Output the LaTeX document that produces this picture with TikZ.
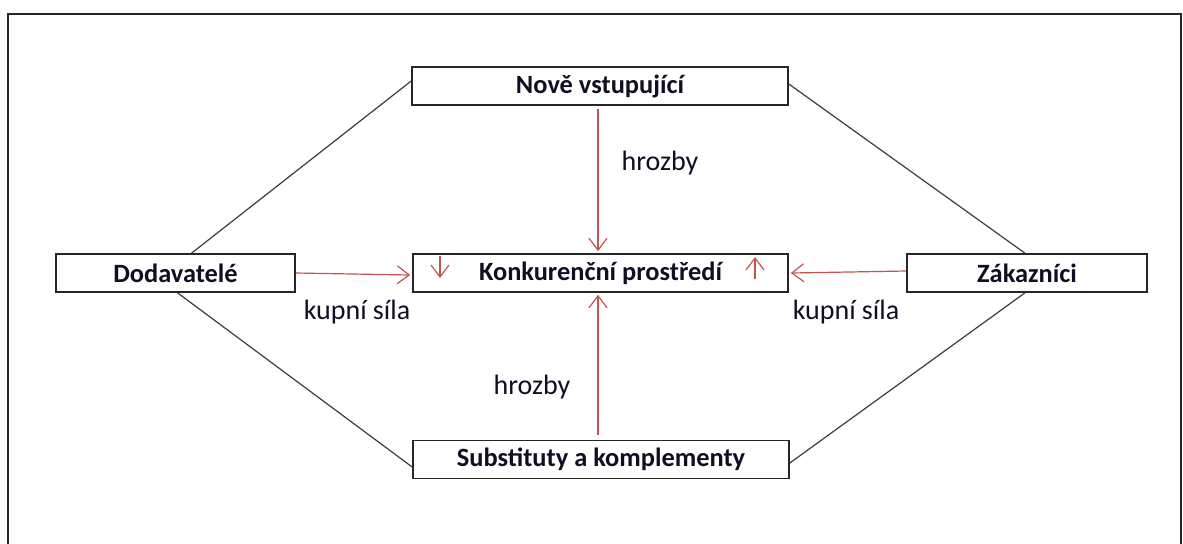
\documentclass[tikz,border=0pt]{standalone}
\usepackage{fontspec}
\setmainfont{Carlito}
\usetikzlibrary{arrows.meta,positioning}
\definecolor{forcered}{RGB}{196,84,80}
\definecolor{linegray}{RGB}{60,60,60}
\definecolor{textnavy}{RGB}{15,15,35}
\newcommand{\forcefont}{\fontsize{13.2}{15}\selectfont}
\newcommand{\labelfont}{\fontsize{14}{16}\selectfont}

\begin{document}
\begin{tikzpicture}[x=0.5pt, y=-0.5pt,
  forcebox/.style = {draw = black!85, line width = 0.8pt, fill = white, shape = rectangle, minimum height = 19pt, inner sep = 0pt, font = \forcefont\bfseries, text = textnavy},
  tie/.style = {draw = linegray, line width = 0.6pt},
  threat/.style = {draw = forcered, line width = 0.6pt, -{Straight Barb[length=6pt, width=9pt, line width=0.6pt]}},
  lbl/.style = {font = \labelfont, text = textnavy, inner sep = 0pt}]
\useasboundingbox (0,0) rectangle (1183,543);
\draw[line width = 1pt, black!85] (8,545) -- (8,14) -- (1181,14) -- (1181,545);

\node[forcebox, minimum width = 188pt] (nove) at (600,86) {Nově vstupující};
\node[forcebox, minimum width = 187.5pt] (konk) at (600.5,273) {Konkurenční prostředí};
\node[forcebox, minimum width = 119.5pt] (dod) at (175.5,273) {Dodavatelé};
\node[forcebox, minimum width = 120pt] (zak) at (1027,273) {Zákazníci};
\node[forcebox, minimum width = 188pt] (sub) at (601,459.5) {Substituty a komplementy};

% spojnice mezi silami
\draw[tie] ([xshift = 8pt]dod.north) -- ([yshift = 2.5pt]nove.west);
\draw[tie] ([xshift = 1pt]dod.south) -- ([yshift = -3.75pt]sub.west);
\draw[tie] ([yshift = 1pt]nove.east) -- ([xshift = -1pt]zak.north);
\draw[tie] ([yshift = -1.75pt]sub.east) -- ([xshift = -1pt]zak.south);

% pusobeni na konkurencni prostredi
\draw[threat] ([xshift = -1pt, yshift = -1.5pt]nove.south) -- ([xshift = -1.25pt, yshift = 1pt]konk.north);
\draw[threat] ([xshift = -1.5pt, yshift = 2.5pt]sub.north) -- ([xshift = -1.25pt, yshift = -1pt]konk.south);
\draw[threat] (dod.east) -- ([xshift = -1pt, yshift = -1pt]konk.west);
\draw[threat] ([yshift = 1pt]zak.west) -- ([xshift = 1pt, yshift = 0pt]konk.east);

\coordinate (dnA) at (440,256);
\coordinate (dnB) at (440,278);
\coordinate (upA) at (755,279);
\coordinate (upB) at (755,257);
\draw[threat] (dnA) -- (dnB);
\draw[threat] (upA) -- (upB);

\node[lbl] (hrozbyA) at (660,163) {hrozby};
\node[lbl] (hrozbyB) at (532,387) {hrozby};
\node[lbl] (silaA) at (357,312) {kupní síla};
\node[lbl] (silaB) at (846,312) {kupní síla};
\end{tikzpicture}
\end{document}
